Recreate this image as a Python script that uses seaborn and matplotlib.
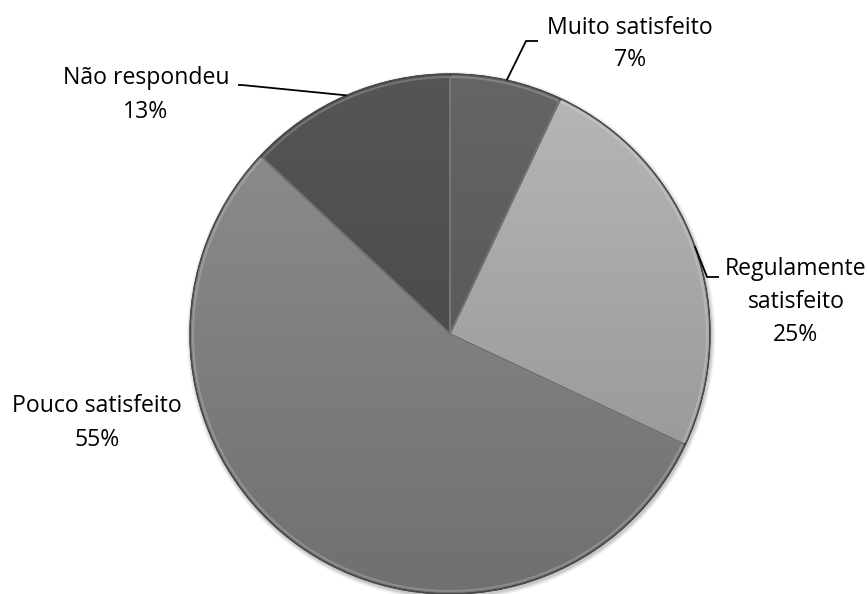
import numpy as np
import matplotlib
matplotlib.use("Agg")
import matplotlib.pyplot as plt
from matplotlib.patches import Circle, Wedge
import seaborn as sns

# Satisfaction survey shares
categories = ["Muito satisfeito", "Regulamente\nsatisfeito", "Pouco satisfeito", "Não respondeu"]
shares = [7, 25, 55, 13]
label_text = ["Muito satisfeito\n7%", "Regulamente\nsatisfeito\n25%", "Pouco satisfeito\n55%", "Não respondeu\n13%"]
slice_colors = ["#656565", "#b7b7b7", "#8f8f8f", "#555555"]

sns.set_theme(style="white")
plt.rcParams["font.family"] = ["Open Sans", "DejaVu Sans"]

W, H = 867, 594
fig = plt.figure(figsize=(W / 100, H / 100), dpi=100)
ax = fig.add_axes([0, 0, 1, 1])

cx, cy, R = 450, H - 334, 260

# soft drop shadow around the disc
for k, a in enumerate([0.05, 0.05, 0.06, 0.08]):
    ax.add_patch(Circle((cx + 1, cy - 2), R + 4 - k, color="black", alpha=a, lw=0, zorder=1))

wedges, _ = ax.pie(
    shares, colors=slice_colors, startangle=90, counterclock=False,
    center=(cx, cy), radius=R, frame=True,
    wedgeprops=dict(edgecolor="#3c3c3c", linewidth=0.9, zorder=2),
)
ax.set_xlim(0, W)
ax.set_ylim(0, H)
ax.set_axis_off()
ax.set_aspect("equal")

# vertical shading across the disc, darker toward the bottom
rows = 256
t = np.linspace(0, 1, rows)[:, None]
shade = np.zeros((rows, 1, 4))
shade[..., 3] = 0.22 * t
img = ax.imshow(shade, extent=(cx - R, cx + R, cy - R, cy + R), origin="upper",
                aspect="auto", zorder=3, interpolation="bilinear")
clip = Circle((cx, cy), R, transform=ax.transData)
img.set_clip_path(clip)

# slice borders with a faint inner highlight
for w in wedges:
    ax.add_patch(Wedge((cx, cy), R, w.theta1, w.theta2,
                       fill=False, edgecolor="#4a4a4a", lw=0.9, zorder=4))
    ax.add_patch(Wedge((cx, cy), R - 3, w.theta1, w.theta2,
                       fill=False, edgecolor="white", lw=1.4, alpha=0.2, zorder=4))

# label placement (text centre, y from top) and leader elbows
text_pos = [(630, 44), (796, 302), (97, 423), (146, 95)]
leader_elbow = [(526, 41), (707, 277), None, (242, 85)]
leader_end = [(538, 41), (719, 277), None, (238, 85)]

fs = 16.6
for i, w in enumerate(wedges):
    tx, ty = text_pos[i]
    ax.text(tx, H - ty, label_text[i], ha="center", va="center", fontsize=fs,
            color="black", linespacing=1.5, zorder=6)
    if leader_elbow[i] is not None:
        mid = np.deg2rad((w.theta1 + w.theta2) / 2)
        px, py = cx + R * np.cos(mid), cy + R * np.sin(mid)
        ex, ey = leader_elbow[i]
        lx, ly = leader_end[i]
        ax.plot([px, ex, lx], [py, H - ey, H - ly], color="black", lw=1.3,
                solid_capstyle="butt", zorder=6)

fig.savefig("out.png", dpi=100, facecolor="white")
